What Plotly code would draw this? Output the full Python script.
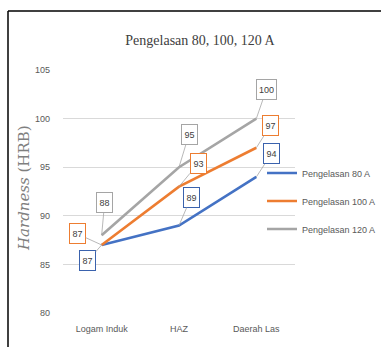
import plotly.graph_objects as go

categories = ["Logam Induk", "HAZ", "Daerah Las"]
series_names = ["Pengelasan 80 A", "Pengelasan 100 A", "Pengelasan 120 A"]
values_80 = [87, 89, 94]
values_100 = [87, 93, 97]
values_120 = [88, 95, 100]
y_ticks = [80, 85, 90, 95, 100, 105]

colors = ["#4472c4", "#ed7d31", "#a5a5a5"]
box_colors = ["#3a62ad", "#ed7d31", "#a5a5a5"]
all_values = [values_80, values_100, values_120]

# label box offsets (pixels) per series per category
offsets = [
    [(-14, 16), (12, -28), (15, -23)],
    [(-24, -11), (19, -23), (14, -22)],
    [(3, -33), (10, -33), (10, -29)],
]

sans = "Liberation Sans, Arial, sans-serif"

L, R, T, B = 63, 86, 70, 34
W, H = 381, 347
PW, PH = W - L - R, H - T - B


def px_x(px):
    return (px - L) / PW


def px_y(py):
    return (H - B - py) / PH


fig = go.Figure()
for i, (name, vals) in enumerate(zip(series_names, all_values)):
    fig.add_trace(go.Scatter(
        x=categories, y=vals, name=name, mode="lines",
        line=dict(color=colors[i], width=2.6),
        legendgroup=name,
    ))

annotations = []
for i, vals in enumerate(all_values):
    for j, v in enumerate(vals):
        ax, ay = offsets[i][j]
        annotations.append(dict(
            x=categories[j], y=v, xref="x", yref="y",
            text=str(v), showarrow=True, arrowhead=0, arrowwidth=0.8,
            arrowcolor="#a6a6a6", ax=ax, ay=ay,
            font=dict(family=sans, size=9, color="#404040"),
            width=15 if v >= 100 else 11, height=15,
            bordercolor=box_colors[i], borderwidth=1, borderpad=2,
            bgcolor="white",
        ))

annotations.append(dict(
    text="<i>Hardness</i> (HRB)", xref="paper", yref="paper",
    x=px_x(24), y=px_y(188), showarrow=False,
    textangle=-90, font=dict(family="DejaVu Serif", size=15, color="#7f7f7f"),
    xanchor="center", yanchor="middle",
))

fig.update_layout(
    width=W, height=H,
    margin=dict(l=L, r=R, t=T, b=B, autoexpand=False),
    paper_bgcolor="white", plot_bgcolor="white",
    title=dict(text="Pengelasan 80, 100, 120 A", x=200 / W, xref="container",
               xanchor="center", y=1 - 40 / H, yref="container", yanchor="middle",
               font=dict(family="Liberation Serif", size=14, color="#404040")),
    xaxis=dict(range=[-0.5, 2.5], showgrid=False, showline=False, zeroline=False,
               ticks="", tickfont=dict(family=sans, size=9, color="#595959"),
               ticklabelstandoff=9),
    yaxis=dict(range=[80, 105], tickvals=y_ticks, showgrid=True, gridcolor="#d9d9d9",
               gridwidth=1, zeroline=False, showline=False, ticks="",
               tickfont=dict(family=sans, size=9, color="#595959"),
               ticklabelstandoff=12),
    legend=dict(x=px_x(262), xanchor="left", y=px_y(201), yanchor="middle",
                font=dict(family=sans, size=9, color="#595959"),
                tracegroupgap=9, itemwidth=30, bgcolor="rgba(0,0,0,0)"),
    annotations=annotations,
    shapes=[
        dict(type="line", xref="paper", yref="paper",
             x0=px_x(8), x1=px_x(381), y0=px_y(11), y1=px_y(11),
             line=dict(color="black", width=1.5)),
        dict(type="line", xref="paper", yref="paper",
             x0=px_x(8), x1=px_x(8), y0=px_y(11), y1=px_y(347),
             line=dict(color="black", width=1.5)),
    ],
)

fig.write_html("out.html", config={"displayModeBar": False},
               post_script="document.body.style.margin='0px';")
